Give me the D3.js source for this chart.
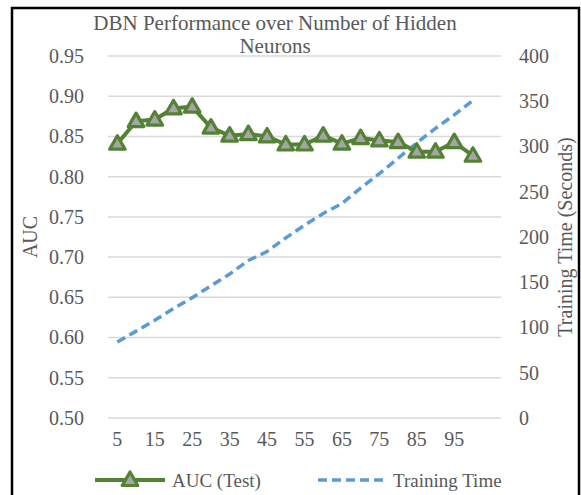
<!DOCTYPE html>
<html>
<head>
<meta charset="utf-8">
<script src="https://cdn.jsdelivr.net/npm/d3@7"></script>
<style>
  body { margin: 0; background: #fff; }
  text { font-family: "Liberation Serif", "Times New Roman", serif; fill: #595959; }
</style>
</head>
<body>
<div id="chart"></div>
<script>
var width = 581, height = 495;

// data
var categories = [5, 10, 15, 20, 25, 30, 35, 40, 45, 50, 55, 60, 65, 70, 75, 80, 85, 90, 95, 100];
var tickLabels = [5, 15, 25, 35, 45, 55, 65, 75, 85, 95];
var aucTest = [0.841, 0.869, 0.871, 0.885, 0.887, 0.861, 0.851, 0.853, 0.850, 0.840,
               0.840, 0.851, 0.841, 0.848, 0.845, 0.843, 0.831, 0.831, 0.843, 0.826];
var trainingTime = [84, 96, 108, 121, 133, 146, 159, 174, 184, 199,
                    213, 226, 237, 254, 270, 287, 304, 320, 335, 351];
var aucTicks = [0.50, 0.55, 0.60, 0.65, 0.70, 0.75, 0.80, 0.85, 0.90, 0.95];
var timeTicks = [0, 50, 100, 150, 200, 250, 300, 350, 400];

var plotLeft = 108, plotRight = 501, plotTop = 56, plotBottom = 418;
var green = '#548235', blue = '#5b9bd5';

var svg = d3.select('#chart').append('svg')
  .attr('width', width)
  .attr('height', height);

// chart frame
svg.append('rect')
  .attr('x', 12).attr('y', 8)
  .attr('width', 567).attr('height', 500)
  .attr('fill', 'none')
  .attr('stroke', '#000')
  .attr('stroke-width', 2.5);

// one empty slot after the last category, as in the original axis
var step = (plotRight - plotLeft) / (categories.length + 1);
var x = d3.scaleBand()
  .domain(categories)
  .range([plotLeft, plotLeft + step * categories.length]);

var yAuc = d3.scaleLinear().domain([0.5, 0.95]).range([plotBottom, plotTop]);
var yTime = d3.scaleLinear().domain([0, 400]).range([plotBottom, plotTop]);

function cx(d) { return x(d) + x.bandwidth() / 2; }

// gridlines (left axis)
svg.append('g').selectAll('line')
  .data(aucTicks)
  .enter().append('line')
  .attr('x1', plotLeft).attr('x2', plotRight)
  .attr('y1', function(d) { return yAuc(d); })
  .attr('y2', function(d) { return yAuc(d); })
  .attr('stroke', '#d9d9d9')
  .attr('stroke-width', 1.5);

// left axis
var leftAxis = svg.append('g')
  .attr('transform', 'translate(' + (plotLeft - 24) + ',0)')
  .call(d3.axisLeft(yAuc).tickValues(aucTicks).tickFormat(d3.format('.2f')).tickSize(0).tickPadding(0));
leftAxis.select('.domain').remove();
leftAxis.selectAll('text').style('font-size', '20px').attr('fill', '#595959');

// right axis
var rightAxis = svg.append('g')
  .attr('transform', 'translate(' + (plotRight + 18) + ',0)')
  .call(d3.axisRight(yTime).tickValues(timeTicks).tickSize(0).tickPadding(0));
rightAxis.select('.domain').remove();
rightAxis.selectAll('text').style('font-size', '20px').attr('fill', '#595959');

// bottom labels, every other category
var bottomAxis = svg.append('g')
  .attr('transform', 'translate(0,' + (plotBottom + 14) + ')')
  .call(d3.axisBottom(x).tickValues(tickLabels).tickSize(0).tickPadding(0));
bottomAxis.select('.domain').remove();
bottomAxis.selectAll('text').style('font-size', '20px').attr('fill', '#595959');

// training time line
var timeLine = d3.line()
  .x(function(d, i) { return cx(categories[i]); })
  .y(function(d) { return yTime(d); });

svg.append('path')
  .datum(trainingTime)
  .attr('d', timeLine)
  .attr('fill', 'none')
  .attr('stroke', blue)
  .attr('stroke-width', 3.5)
  .attr('stroke-dasharray', '9,5');

// AUC line
var aucLine = d3.line()
  .x(function(d, i) { return cx(categories[i]); })
  .y(function(d) { return yAuc(d); });

svg.append('path')
  .datum(aucTest)
  .attr('d', aucLine)
  .attr('fill', 'none')
  .attr('stroke', green)
  .attr('stroke-width', 4)
  .attr('stroke-linejoin', 'round');

var tri = d3.symbol().type(d3.symbolTriangle).size(105);

svg.append('g').selectAll('path')
  .data(aucTest)
  .enter().append('path')
  .attr('d', tri)
  .attr('transform', function(d, i) { return 'translate(' + cx(categories[i]) + ',' + (yAuc(d) + 1) + ')'; })
  .attr('fill', '#a5a5a5')
  .attr('stroke', green)
  .attr('stroke-width', 3.2)
  .attr('stroke-linejoin', 'round');

// title
var title = svg.append('text')
  .attr('x', 275)
  .attr('text-anchor', 'middle')
  .style('font-size', '21px');
title.append('tspan').attr('x', 275).attr('y', 30).text('DBN Performance over Number of Hidden');
title.append('tspan').attr('x', 275).attr('y', 53).text('Neurons');

// axis titles
svg.append('text')
  .attr('transform', 'translate(37,237) rotate(-90)')
  .attr('text-anchor', 'middle')
  .style('font-size', '20px')
  .text('AUC');

svg.append('text')
  .attr('transform', 'translate(572,237) rotate(-90)')
  .attr('text-anchor', 'middle')
  .style('font-size', '20px')
  .text('Training Time (Seconds)');

// legend
var legY = 480;
svg.append('line')
  .attr('x1', 95).attr('x2', 165).attr('y1', legY).attr('y2', legY)
  .attr('stroke', green).attr('stroke-width', 4);
svg.append('path')
  .attr('d', tri)
  .attr('transform', 'translate(130,' + (legY + 1) + ')')
  .attr('fill', '#a5a5a5')
  .attr('stroke', green)
  .attr('stroke-width', 3.2)
  .attr('stroke-linejoin', 'round');
svg.append('text')
  .attr('x', 172).attr('y', legY + 7)
  .style('font-size', '19px')
  .text('AUC (Test)');

svg.append('line')
  .attr('x1', 318).attr('x2', 386).attr('y1', legY).attr('y2', legY)
  .attr('stroke', blue).attr('stroke-width', 3.5)
  .attr('stroke-dasharray', '9,5');
svg.append('text')
  .attr('x', 393).attr('y', legY + 7)
  .style('font-size', '19px')
  .text('Training Time');
</script>
</body>
</html>
